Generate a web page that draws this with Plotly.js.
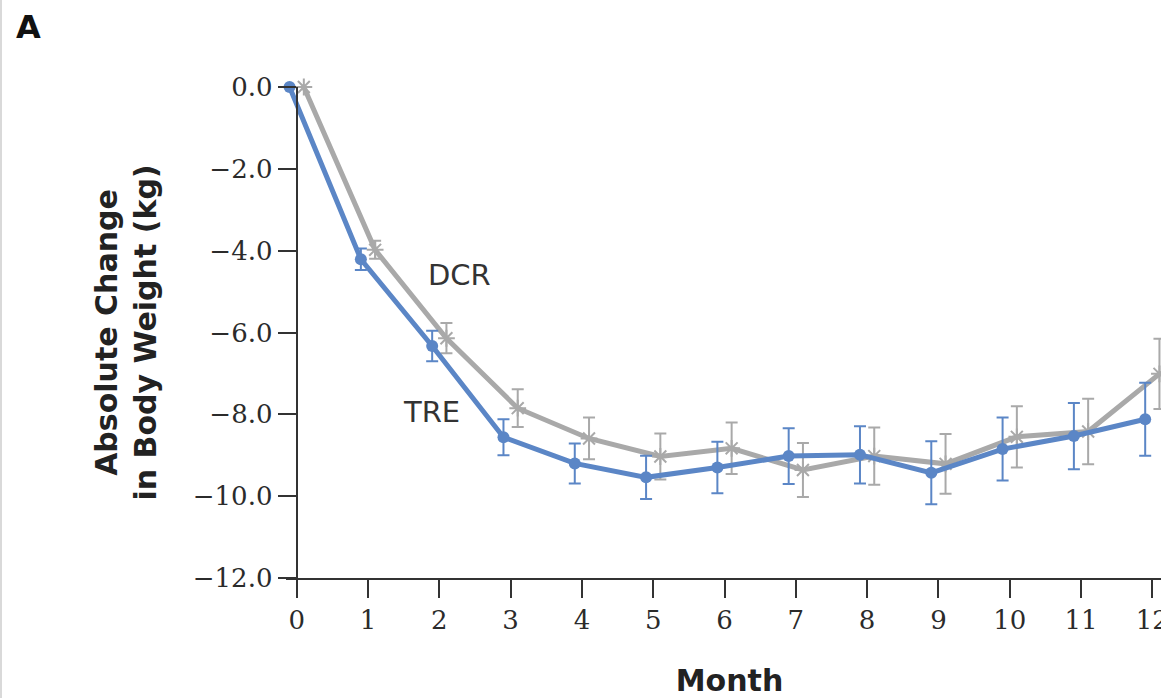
<!DOCTYPE html>
<html>
<head>
<meta charset="utf-8">
<script src="https://cdn.plot.ly/plotly-3.0.1.min.js"></script>
<style>
  html, body { margin: 0; padding: 0; width: 1161px; height: 698px; overflow: hidden; background: #fff; }
  #wrap { position: relative; width: 1161px; height: 698px; overflow: hidden; }
  #edge { position: absolute; left: 0; top: 0; width: 2px; height: 698px; background: #d9d9d9; z-index: 5; }
  #chart { position: absolute; left: 0; top: 0; }
</style>
</head>
<body>
<div id="wrap"><div id="edge"></div><div id="chart"></div></div>
<script>
// Months after randomization
const months = [0, 1, 2, 3, 4, 5, 6, 7, 8, 9, 10, 11, 12];
const monthTicks = ["0", "1", "2", "3", "4", "5", "6", "7", "8", "9", "10", "11", "12"];

// Time-restricted eating (TRE): mean change (kg) and error half-width
const treMean = [0.0, -4.21, -6.33, -8.56, -9.20, -9.54, -9.30, -9.02, -8.99, -9.43, -8.85, -8.53, -8.12];
const treErr  = [0.0, 0.26, 0.37, 0.44, 0.49, 0.53, 0.63, 0.68, 0.70, 0.77, 0.77, 0.81, 0.89];

// Daily calorie restriction (DCR): mean change (kg) and error half-width
const dcrMean = [0.0, -3.98, -6.14, -7.85, -8.59, -9.03, -8.83, -9.36, -9.02, -9.21, -8.55, -8.42, -7.01];
const dcrErr  = [0.0, 0.22, 0.37, 0.46, 0.51, 0.56, 0.63, 0.66, 0.70, 0.73, 0.75, 0.80, 0.86];

const yTicks = [0, -2, -4, -6, -8, -10, -12];

const blue = "#5b86c6";
const gray = "#a9a9a9";
const dodge = 0.1;
const xMin = -0.15, xMax = 12.29;

const tre = {
  type: "scatter", mode: "lines+markers", name: "TRE",
  x: months.map(m => m - dodge), y: treMean,
  line: { color: blue, width: 5 },
  marker: { color: blue, size: 12, symbol: "circle" },
  error_y: { type: "data", array: treErr, visible: true, color: blue, thickness: 2, width: 6 },
  cliponaxis: false, showlegend: false, hoverinfo: "x+y"
};
const dcr = {
  type: "scatter", mode: "lines+markers", name: "DCR",
  x: months.map(m => m + dodge), y: dcrMean,
  line: { color: gray, width: 5 },
  marker: { color: gray, size: 14, symbol: "asterisk-open", line: { color: gray, width: 2 } },
  error_y: { type: "data", array: dcrErr, visible: true, color: gray, thickness: 2, width: 6 },
  cliponaxis: false, showlegend: false, hoverinfo: "x+y"
};

const tickFont = { family: "DejaVu Serif, serif", size: 26, color: "#2b2b2b" };
const titleFont = { family: "DejaVu Sans, sans-serif", size: 30, color: "#222", weight: "bold" };

const layout = {
  width: 1193, height: 698,
  margin: { l: 286, r: 20, t: 87, b: 120 },
  paper_bgcolor: "#fff", plot_bgcolor: "#fff",
  xaxis: {
    range: [xMin, xMax], tickmode: "array", tickvals: months, ticktext: monthTicks,
    showgrid: false, zeroline: false, showline: true, linecolor: "#333", linewidth: 2,
    ticks: "outside", ticklen: 18, tickwidth: 2, tickcolor: "#333",
    tickfont: tickFont,
    title: { text: "<b>Month</b>", font: titleFont, standoff: 37 }
  },
  yaxis: {
    range: [-12, 0], tickmode: "array", tickvals: yTicks, tickformat: ".1f",
    anchor: "free", position: (0 - xMin) / (xMax - xMin),
    showgrid: false, zeroline: false, showline: true, linecolor: "#333", linewidth: 2,
    ticks: "outside", ticklen: 18, tickwidth: 2, tickcolor: "#333",
    tickfont: tickFont,
    title: { text: "<b>Absolute Change<br>in Body Weight (kg)</b>", font: titleFont, standoff: 26 }
  },
  annotations: [
    { text: "A", xref: "paper", yref: "paper", x: -0.307, y: 1.122, xanchor: "left", yanchor: "middle",
      showarrow: false, font: { family: "DejaVu Sans, sans-serif", size: 32, color: "#111", weight: "bold" } },
    { text: "DCR", xref: "x", yref: "y", x: 2.29, y: -4.59, showarrow: false,
      font: { family: "DejaVu Sans, sans-serif", size: 29, color: "#333" } },
    { text: "TRE", xref: "x", yref: "y", x: 1.89, y: -7.94, showarrow: false,
      font: { family: "DejaVu Sans, sans-serif", size: 29, color: "#333" } }
  ],
  font: { family: "DejaVu Sans, sans-serif" },
  showlegend: false
};

Plotly.newPlot("chart", [dcr, tre], layout, { displayModeBar: false, staticPlot: true });
</script>
</body>
</html>
